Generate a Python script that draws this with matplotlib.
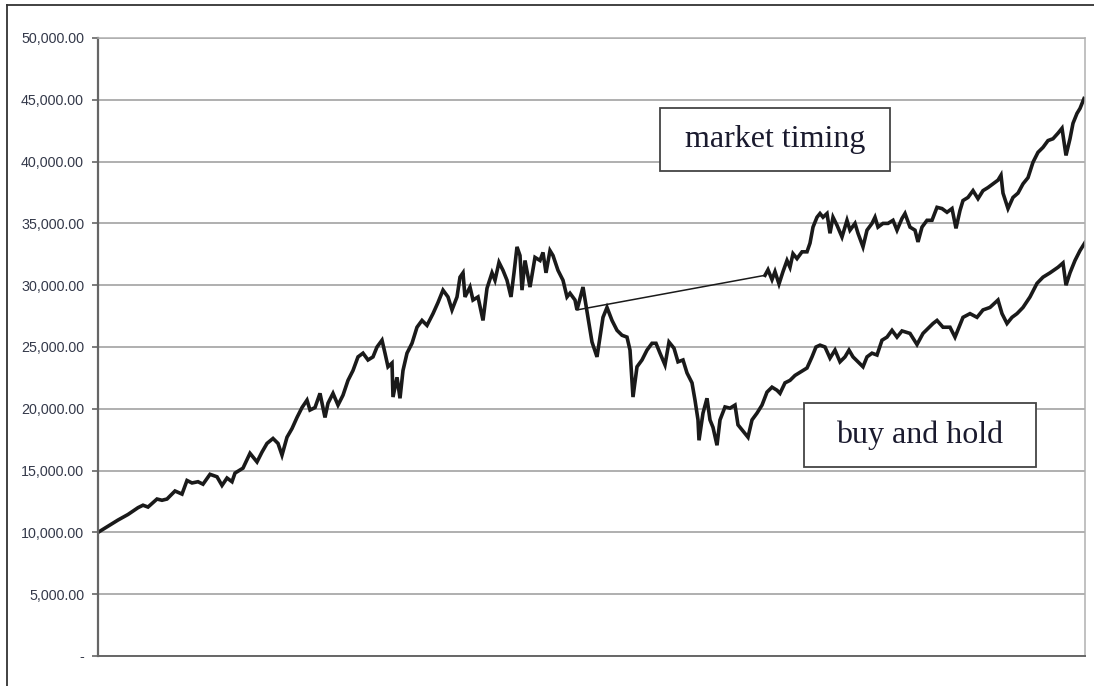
import matplotlib
matplotlib.use("Agg")
import matplotlib.pyplot as plt
from matplotlib.patches import Rectangle
from matplotlib.ticker import FuncFormatter

# time position (trading-period index) and portfolio value
bh_t = [0, 10, 20, 30, 40, 45, 50, 59, 64, 69, 77, 84, 89, 94, 100, 105, 112, 119, 124,
        129, 134, 137, 145, 152, 159, 164, 169, 175, 180, 184, 189, 194, 199, 204, 209,
        212, 217, 222, 227, 230, 235, 240, 245, 250, 255, 260, 265, 270, 275, 279, 284,
        287, 290, 294, 295, 299, 302, 305, 309, 314, 319, 324, 329, 335, 340, 345, 350,
        354, 359, 362, 365, 367, 372, 375, 380, 385, 389, 394, 397, 401, 405, 409, 413,
        416, 419, 422, 424, 427, 432, 437, 442, 445, 448, 452, 455, 460, 465, 469, 472,
        477, 479, 485, 490, 494, 499, 502, 505, 509, 514, 519, 524, 529, 532, 535, 539,
        544, 549, 554, 558, 562, 567, 571, 576, 580, 585, 589, 594, 597, 600, 601,
        605, 609, 612, 615, 619, 622, 627, 632, 637, 640, 645, 650, 654, 659, 664, 669,
        674, 679, 682, 687, 692, 697, 702, 709, 714, 718, 722, 727, 732, 737, 742, 747,
        751, 755, 760, 765, 769, 774, 779, 784, 789, 794, 799, 804, 812, 819, 825, 835,
        839, 845, 852, 857, 865, 872, 879, 885, 892, 900, 904, 909, 914, 919, 925, 932,
        939, 945, 952, 960, 965, 968, 972, 977, 982, 987]
bh_val = [10000, 10500, 11000, 11450, 12000, 12200, 12050, 12700, 12600, 12700, 13350,
          13100, 14200, 14000, 14100, 13900, 14700, 14500, 13800, 14400, 14100, 14800,
          15200, 16400, 15700, 16500, 17200, 17600, 17200, 16250, 17700, 18400, 19300,
          20100, 20700, 19900, 20100, 21250, 19300, 20450, 21250, 20300, 21100, 22300,
          23100, 24200, 24500, 23950, 24200, 25000, 25550, 24500, 23400, 23700, 20950,
          22550, 20850, 23100, 24500, 25300, 26600, 27150, 26750, 27700, 28600, 29600,
          29050, 28000, 29050, 30650, 31000, 29050, 29850, 28800, 29050, 27150, 29750,
          31000, 30400, 31850, 31200, 30400, 29050, 31000, 33100, 32400, 29600, 32000,
          29850, 32250, 32000, 32650, 31000, 32800, 32400, 31200, 30400, 29050, 29350,
          28800, 28000, 29850, 27400, 25400, 24200, 25800, 27400, 28200, 27150, 26350,
          25950, 25800, 24750, 20950, 23400, 23950, 24750, 25300, 25300, 24500, 23550,
          25400, 24900, 23800, 23950, 22900, 22100, 20700, 19100, 17450, 19650, 20850,
          19100, 18500, 17050, 19100, 20150, 20050, 20300, 18700, 18200, 17700, 19100,
          19650, 20300, 21350, 21750, 21500, 21250, 22100, 22300, 22700, 22950, 23300,
          24200, 25000, 25150, 25000, 24100, 24750, 23800, 24200, 24750, 24200, 23800,
          23400, 24200, 24500, 24350, 25550, 25800, 26350, 25800, 26300, 26100, 25200,
          26100, 26900, 27150, 26600, 26600, 25800, 27400, 27700, 27400, 28000, 28200,
          28800, 27700, 26900, 27400, 27700, 28200, 29050, 30150, 30650, 31000, 31450,
          31800, 30000, 31000, 32000, 32800, 33450]

# market timing: out of the market (cash) between these two points
mt_cash_t = [479, 667]
mt_cash_val = [28000, 30800]

mt_t = [667, 670, 674, 677, 681, 685, 689, 692, 695, 699, 704, 709, 712, 715, 719, 722,
        725, 729, 732, 735, 739, 744, 749, 752, 757, 760, 765, 769, 774, 777, 780, 785,
        790, 795, 799, 804, 807, 812, 817, 820, 824, 829, 834, 839, 844, 849, 854, 858,
        862, 865, 870, 875, 880, 885, 890, 895, 900, 903, 905, 910, 915, 920, 925, 930,
        935, 940, 945, 950, 955, 960, 964, 968, 972, 975, 979, 982, 986]
mt_val = [30800, 31250, 30450, 31100, 30100, 31100, 32000, 31450, 32550, 32150, 32700,
          32700, 33400, 34700, 35500, 35800, 35500, 35800, 34200, 35500, 34850, 33900,
          35250, 34450, 35000, 34200, 33100, 34450, 35000, 35500, 34700, 35000, 35000,
          35250, 34450, 35400, 35800, 34700, 34450, 33500, 34700, 35250, 35250, 36300,
          36200, 35900, 36200, 34600, 36050, 36850, 37100, 37650, 37000, 37650, 37900,
          38200, 38500, 38900, 37450, 36200, 37100, 37450, 38200, 38700, 39950, 40750,
          41150, 41700, 41850, 42300, 42700, 40500, 41850, 43100, 43900, 44300, 45100]

y_ticks = [0, 5000, 10000, 15000, 20000, 25000, 30000, 35000, 40000, 45000, 50000]


def excel_fmt(v, pos):
    if v == 0:
        return "-"
    return f"{v:,.2f}"


fig = plt.figure(figsize=(10.94, 6.86), dpi=100)
ax = fig.add_axes([98 / 1094, 1 - 656 / 686, (1085 - 98) / 1094, (656 - 38) / 686])

# outer chart frame
fig.add_artist(plt.Line2D([7 / 1094, 1.0], [1 - 5 / 686, 1 - 5 / 686], color="#333333", lw=1.3))
fig.add_artist(plt.Line2D([7 / 1094, 7 / 1094], [0, 1 - 5 / 686], color="#333333", lw=1.3))

ax.set_xlim(0, 987)
ax.set_ylim(0, 50000)
ax.set_yticks(y_ticks)
ax.yaxis.set_major_formatter(FuncFormatter(excel_fmt))
ax.set_xticks([])
ax.grid(axis="y", color="#9a9a9a", lw=1.1)
ax.set_axisbelow(True)

for side in ["top", "right"]:
    ax.spines[side].set_color("#b0b0b0")
    ax.spines[side].set_linewidth(1.1)
ax.spines["left"].set_color("#666666")
ax.spines["left"].set_linewidth(1.6)
ax.spines["bottom"].set_color("#666666")
ax.spines["bottom"].set_linewidth(1.4)

ax.tick_params(axis="y", length=4, width=1.2, color="#666666", pad=6,
               labelsize=10.3, labelcolor="#34394a")
for lab in ax.get_yticklabels():
    lab.set_fontfamily(["Liberation Sans", "DejaVu Sans"])

ax.plot(bh_t, bh_val, color="#1a1a1a", lw=2.6, solid_joinstyle="miter")
ax.plot(mt_cash_t, mt_cash_val, color="#1a1a1a", lw=1.1)
ax.plot(mt_t, mt_val, color="#1a1a1a", lw=2.6, solid_joinstyle="miter")

# label boxes
serif = ["Liberation Serif", "DejaVu Serif"]
ax.add_patch(Rectangle((562, 39260), 230, 5050, facecolor="white", edgecolor="#444444",
                       lw=1.3, zorder=5))
ax.text(677, 41790, "market timing", ha="center", va="center", fontsize=23,
        family=serif, color="#1a1a2e", zorder=6)
ax.add_patch(Rectangle((706, 15315), 232, 5125, facecolor="white", edgecolor="#444444",
                       lw=1.3, zorder=5))
ax.text(822, 17880, "buy and hold", ha="center", va="center", fontsize=23,
        family=serif, color="#1a1a2e", zorder=6)

fig.savefig("out.png", dpi=100)
